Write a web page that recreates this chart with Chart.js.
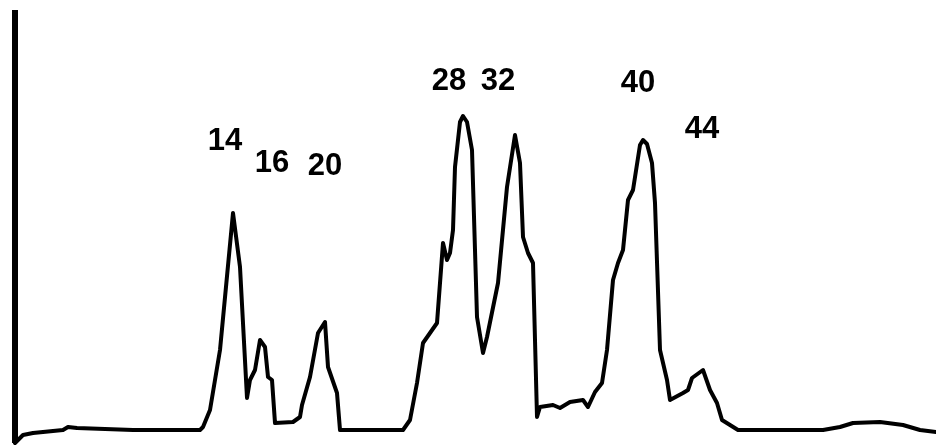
<!DOCTYPE html>
<html>
<head>
<meta charset="utf-8">
<script src="https://cdn.jsdelivr.net/npm/chart.js@4"></script>
<style>
  html, body { margin: 0; padding: 0; background: #fff; }
  #wrap { width: 936px; height: 447px; }
</style>
</head>
<body>
<div id="wrap"><canvas id="trace" width="936" height="447"></canvas></div>
<script>
// trace (x = time axis, y = detector signal height)
const traceX = [15, 18, 23, 33, 63, 68, 77, 133, 200, 203, 210, 220, 233, 240, 247, 250, 255, 260, 265, 268,
  272, 275, 293, 300, 302, 310, 318, 325, 328, 337, 340, 403, 410, 417, 423, 437, 440, 443, 447, 450,
  453, 455, 460, 463, 467, 472, 477, 483, 487, 498, 507, 515, 520, 523, 528, 533, 537, 540, 553, 560, 570,
  583, 588, 595, 602, 607, 613, 618, 623, 628, 633, 640, 643, 647, 652, 655, 660, 667, 670, 683, 688, 692,
  703, 710, 717, 722, 730, 738, 823, 840, 853, 880, 903, 920, 936];
const traceY = [4, 7, 12, 14, 17, 20, 19, 17, 17, 20, 37, 97, 234, 180, 49, 67, 77, 107, 100, 70,
  67, 24, 25, 30, 42, 70, 114, 125, 80, 54, 17, 17, 27, 64, 104, 124, 164, 204, 187, 194,
  217, 280, 325, 331, 325, 297, 130, 94, 110, 164, 260, 312, 284, 210, 194, 184, 30, 40, 42, 39, 45,
  47, 40, 55, 64, 97, 167, 184, 197, 247, 257, 302, 307, 303, 284, 244, 97, 67, 47, 54, 57, 69,
  77, 57, 44, 27, 22, 17, 17, 20, 24, 25, 22, 17, 15];

// vertical baseline marker on the left
const axisX = [15, 15];
const axisY = [4, 437];

// peak numbers and where they sit
const peakLabels = ["14", "16", "20", "28", "32", "40", "44"];
const peakLabelX = [225, 272, 325, 449, 498, 638, 702];
const peakLabelY = [297, 275, 272, 357, 357, 355, 309];

const toPoints = (xs, ys) => xs.map((x, i) => ({ x: x, y: ys[i] }));

const peakLabelPlugin = {
    id: "peakLabels",
    afterDatasetsDraw(chart) {
        const ctx = chart.ctx;
        const xs = chart.scales.x;
        const ys = chart.scales.y;
        ctx.save();
        ctx.fillStyle = "#000";
        ctx.font = "bold 31px 'Liberation Sans', Arial, sans-serif";
        ctx.textAlign = "center";
        ctx.textBaseline = "alphabetic";
        peakLabels.forEach((txt, i) => {
            ctx.fillText(txt, xs.getPixelForValue(peakLabelX[i]), ys.getPixelForValue(peakLabelY[i]));
        });
        ctx.restore();
    }
};

new Chart(document.getElementById("trace"), {
    type: "line",
    data: {
        datasets: [
            {
                data: toPoints(traceX, traceY),
                borderColor: "#000",
                borderWidth: 4,
                pointRadius: 0,
                tension: 0,
                borderJoinStyle: "round",
                borderCapStyle: "round"
            },
            {
                data: toPoints(axisX, axisY),
                borderColor: "#000",
                borderWidth: 6,
                pointRadius: 0
            }
        ]
    },
    options: {
        responsive: false,
        animation: false,
        layout: { padding: 0 },
        plugins: {
            legend: { display: false },
            tooltip: { enabled: false }
        },
        scales: {
            x: { type: "linear", min: 0, max: 936, display: false },
            y: { min: 0, max: 447, display: false }
        }
    },
    plugins: [peakLabelPlugin]
});
</script>
</body>
</html>
